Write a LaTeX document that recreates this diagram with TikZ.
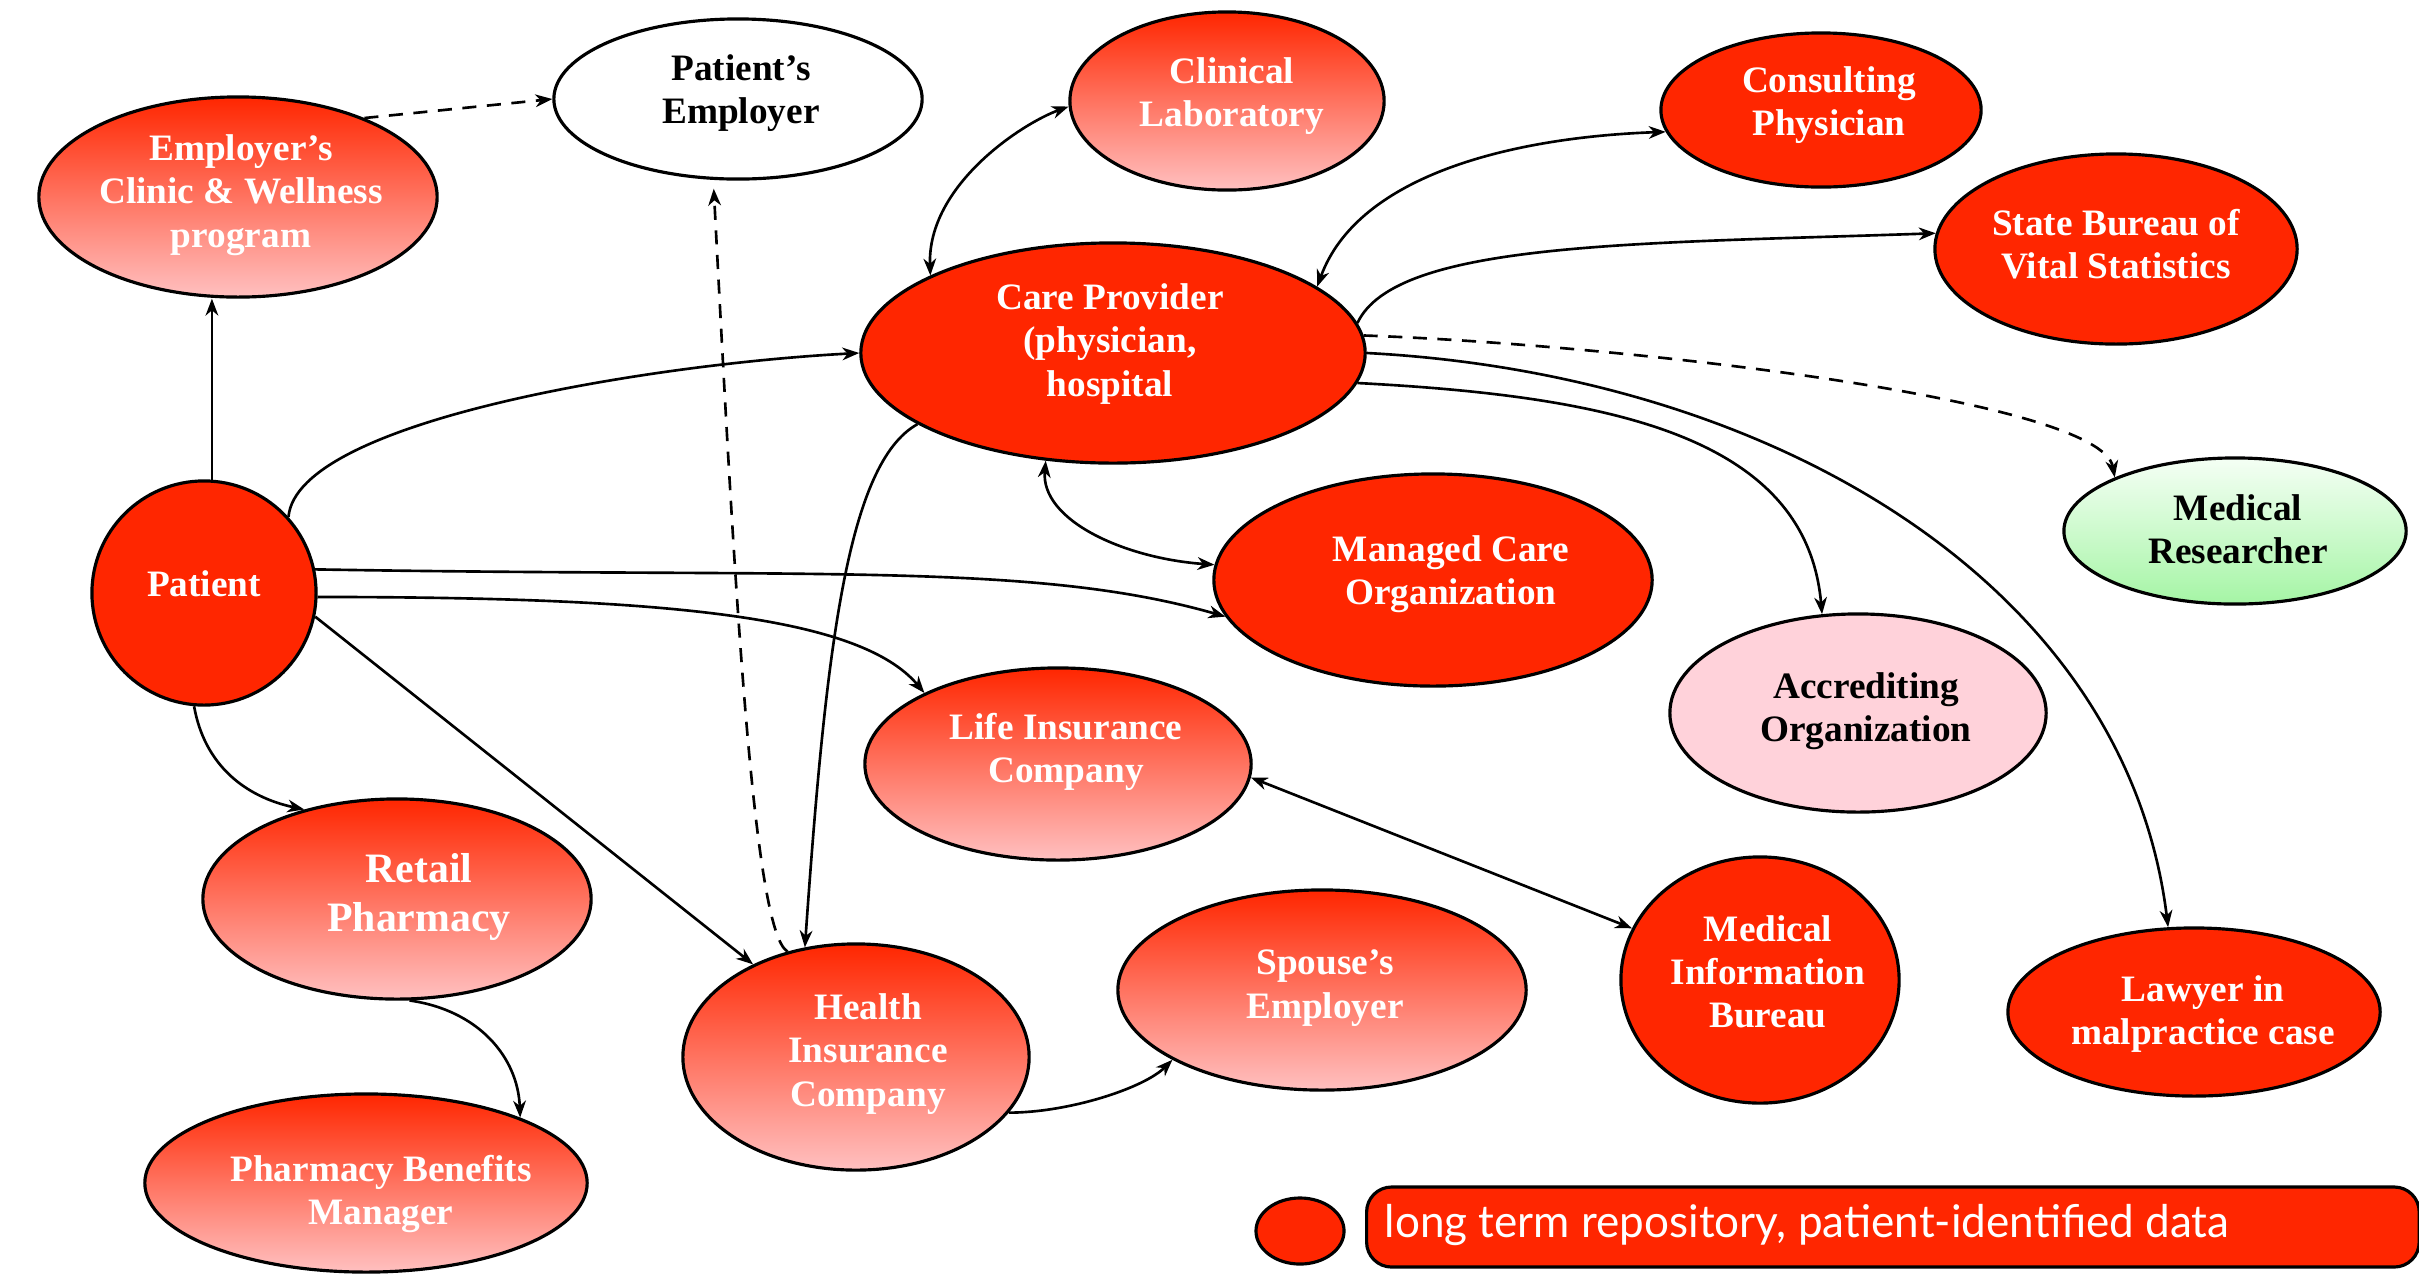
\documentclass[tikz,border=0pt]{standalone}
\usepackage{fontspec}
\usepackage{graphicx}
\setmainfont{Liberation Serif}
\newfontfamily\legfont{Lato}
\usetikzlibrary{shapes.geometric,arrows.meta}
\definecolor{rs}{RGB}{255,38,0}
\definecolor{pk}{RGB}{255,192,192}
\definecolor{accpink}{RGB}{255,210,218}
\definecolor{gtop}{RGB}{245,255,245}
\definecolor{gbot}{RGB}{165,245,165}
\tikzset{
  tipA/.tip={Stealth[length=4.8pt,width=3.6pt,inset=1.5pt]},
}
\begin{document}
\begin{tikzpicture}[x=0.01cm,y=0.01cm,
  ent/.style={ellipse, draw=black, line width=0.9pt, inner sep=0pt},
  sz/.style 2 args={minimum width=#1*0.02cm, minimum height=#2*0.02cm},
  solidr/.style={fill=rs},
  grad/.style={top color=rs, bottom color=pk},
  txt/.style={align=center, inner sep=0pt, text=white, font=\fontsize{10.6}{12.3}\selectfont\bfseries},
  btxt/.style={txt, text=black},
  conn/.style={line width=0.75pt, -tipA},
  bi/.style={line width=0.75pt, tipA-tipA},
  dsh/.style={dash pattern=on 4pt off 3pt}
]
\path[use as bounding box] (0,0) rectangle (2419,-1275);

% entity shapes
\node[ent,sz={184}{80},fill=white] (pemp) at (738,-99) {};
\node[ent,grad,sz={199}{100}] (clinic) at (238,-197) {};
\node[ent,grad,sz={157}{89}] (lab) at (1227,-101) {};
\node[ent,solidr,sz={160}{77}] (cons) at (1821,-110) {};
\node[ent,solidr,sz={181}{95}] (state) at (2116,-249) {};
\node[ent,solidr,sz={252}{110}] (cp) at (1113,-353) {};
\node[ent,solidr,sz={112}{112}] (pat) at (204,-593) {};
\node[ent,solidr,sz={219}{106}] (mco) at (1433,-580) {};
\node[ent,sz={171}{73},top color=gtop,bottom color=gbot] (res) at (2235,-531) {};
\node[ent,fill=accpink,sz={188}{99}] (acc) at (1858,-713) {};
\node[ent,grad,sz={193}{96}] (life) at (1058,-764) {};
\node[ent,grad,sz={194}{100}] (retail) at (397,-899) {};
\node[ent,grad,sz={173}{113}] (hic) at (856,-1057) {};
\node[ent,grad,sz={204}{100}] (spouse) at (1322,-990) {};
\node[ent,solidr,sz={139}{123}] (mib) at (1760,-980) {};
\node[ent,solidr,sz={186}{84}] (law) at (2194,-1012) {};
\node[ent,grad,sz={221}{89}] (pbm) at (366,-1183) {};

% entity texts
\node[btxt] (pemp-t) at (741,-93) {Patient’s\\Employer};
\node[txt] (clinic-t) at (241,-195) {Employer’s\\Clinic \& Wellness\\program};
\node[txt] (lab-t) at (1232,-96) {Clinical\\Laboratory};
\node[txt] (cons-t) at (1829,-105) {Consulting\\Physician};
\node[txt] (state-t) at (2116,-244) {State Bureau of\\Vital Statistics};
\node[txt] (cp-t) at (1110,-344) {Care Provider\\(physician,\\hospital};
\node[txt] (pat-t) at (204,-584) {Patient};
\node[txt] (mco-t) at (1451,-574) {Managed Care\\Organization};
\node[btxt] (res-t) at (2238,-529) {Medical\\Researcher};
\node[btxt] (acc-t) at (1866,-711) {Accrediting\\Organization};
\node[txt] (life-t) at (1066,-752) {Life Insurance\\Company};
\node[txt,font=\fontsize{11.9}{14}\selectfont\bfseries] (retail-t) at (419,-897) {Retail\\Pharmacy};
\node[txt] (hic-t) at (868,-1054) {Health\\Insurance\\Company};
\node[txt] (spouse-t) at (1325,-988) {Spouse’s\\Employer};
\node[txt] (mib-t) at (1768,-972) {Medical\\Information\\Bureau};
\node[txt] (law-t) at (2203,-1014) {Lawyer in\\malpractice case};
\node[txt] (pbm-t) at (381,-1194) {Pharmacy Benefits\\Manager};

% legend
\node[ent,solidr,sz={44}{33}] (legdot) at (1300,-1231) {};
\node[draw=black,line width=0.9pt,fill=rs,rounded corners=0.25cm,inner sep=0pt,
  minimum width=10.52cm,minimum height=0.80cm,anchor=west] (legbox) at (1365,-1227) {};
\node[anchor=west,inner sep=0pt,text=white] (legtxt) at ([xshift=0.19cm,yshift=0.02cm]legbox.west)
  {\resizebox{8.44cm}{\height}{\legfont\fontsize{12.8}{15}\selectfont long term repository, patient-identified data}};

% connectors
\draw[conn,dsh] (clinic.32) -- (pemp.west);
\draw[conn] (pat.86) -- (pat.86 |- clinic.south);
\draw[conn] (pat.42) to[out=85,in=183,out distance=0.97cm,in distance=2.05cm] (cp.west);
\draw[bi] (cp.157) to[out=92,in=200,out distance=0.9cm,in distance=0.5cm] (lab.182);
\draw[bi] (cp.18) to[out=70,in=182,out distance=1.2cm,in distance=1.5cm] (cons.188);
\draw[conn] (cp.7) to[out=65,in=182,out distance=0.9cm,in distance=3cm] (state.175);
\draw[conn,dsh] (cp.4) to[out=-2,in=100,out distance=2.5cm,in distance=0.8cm] (res.156);
\draw[conn] (cp.0) to[out=-3,in=97,out distance=4cm,in distance=3.5cm] (law.107);
\draw[conn] (cp.-7) to[out=-3,in=95,out distance=2.5cm,in distance=1.8cm] (acc.110);
\draw[bi] (cp.238) to[out=265,in=176,out distance=0.6cm,in distance=0.9cm] (mco.176);
\draw[conn] (cp.200) to[out=209,in=86,out distance=0.8cm,in distance=3cm] (hic.115);
\draw[conn,dsh,shorten >=2.5pt] (hic.123) to[out=150,in=273,out distance=0.4cm,in distance=4cm] (pemp.253);
\draw[conn] (pat.12) to[out=-1,in=164,out distance=5cm,in distance=2cm] (mco.190);
\draw[conn] (pat.-2) to[out=0,in=130,out distance=3.5cm,in distance=1cm] (life.152);
\draw[conn] (pat.-12) -- (hic.138);
\draw[conn] (pat.265) to[out=-80,in=168,out distance=0.6cm,in distance=0.6cm] (retail.136);
\draw[conn] (retail.-83) to[out=-8,in=92,out distance=0.7cm,in distance=0.6cm] (pbm.23);
\draw[conn] (hic.-20) to[out=0,in=225,out distance=0.6cm,in distance=0.4cm] (spouse.205);
\draw[bi] (life.-4) -- (mib.158);
\end{tikzpicture}
\end{document}
